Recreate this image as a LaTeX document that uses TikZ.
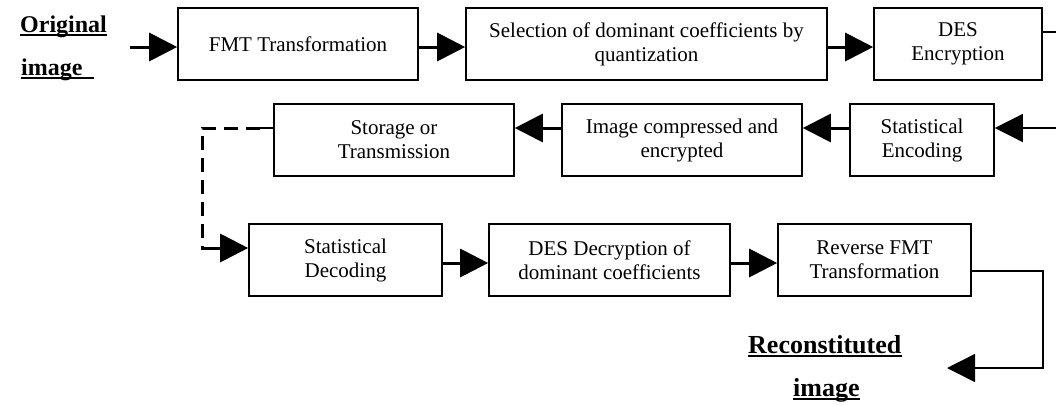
\documentclass[tikz,border=0pt]{standalone}
\usepackage{fontspec}
\setmainfont{Liberation Serif}
\usetikzlibrary{arrows.meta}
\tikzset{
  box/.style={draw, line width=1.6pt, inner sep=0pt, align=center,
    font=\fontsize{21}{24}\selectfont, minimum height=72pt},
  flow/.style={line width=3pt, -{Triangle[length=28pt,width=28pt]}},
  thinflow/.style={line width=1.5pt, -{Triangle[length=28pt,width=28pt]}},
  lbl/.style={font=\fontsize{24}{28}\selectfont\bfseries, inner sep=0pt, anchor=base west},
  biglbl/.style={lbl, font=\fontsize{26}{30}\selectfont\bfseries},
  uline/.style={line width=1.5pt},
  dashline/.style={line width=3pt, dash pattern=on 14pt off 8pt},
}
\begin{document}
\begin{tikzpicture}[x=1pt, y=-1pt]
  \useasboundingbox (0,0) rectangle (1056,405);
  \clip (0,0) rectangle (1056,405);

  % first row: compression and encryption
  \node[box, minimum width=240pt] (fmt) at (298,44) {FMT Transformation};
  \node[box, minimum width=361pt] (sel) at (646.5,44) {Selection of dominant coefficients by\\quantization};
  \node[box, minimum width=168pt] (des) at (958,44) {DES\\Encryption};

  % second row
  \node[box, minimum width=144pt] (enc) at (922,140) {Statistical\\Encoding};
  \node[box, minimum width=240pt] (cmp) at (682,140) {Image compressed and\\encrypted};
  \node[box, minimum width=240pt] (sto) at (394,140) {Storage or\\Transmission};

  % third row: decoding and reconstruction
  \node[box, minimum width=193pt] (dec) at (345.5,260) {Statistical\\Decoding};
  \node[box, minimum width=241pt] (dcr) at (609.5,260) {DES Decryption of\\dominant coefficients};
  \node[box, minimum width=193pt] (rev) at (874.5,260) {Reverse FMT\\Transformation};

  % labels
  \node[lbl] (orig) at (20,32) {Original};
  \node[lbl] (oimg) at (21,75) {image\hspace*{11pt}};
  \node[biglbl] (reco) at (748,353) {Reconstituted};
  \node[biglbl] (rimg) at (793,396) {image};
  \foreach \n in {orig,oimg,reco,rimg}
    \draw[uline] ([yshift=-3pt]\n.base west) -- ([yshift=-3pt]\n.base east);

  % helper points
  \coordinate (in0) at (130,47);
  \coordinate (r1) at (1070,32);
  \coordinate (r2) at (1070,128);
  \coordinate (d0) at (260,128);
  \coordinate (d1) at (202,128);
  \coordinate (d2) at (202,248);
  \coordinate (d3) at (214,248);
  \coordinate (e1) at (1043,271);
  \coordinate (e2) at (1043,368);
  \coordinate (out) at (947,368);

  % first row connectors
  \draw[flow] (in0) -- ([yshift=-3pt]fmt.west);
  \draw[flow] ([yshift=-3pt]fmt.east) -- ([yshift=-3pt]sel.west);
  \draw[flow] ([yshift=-3pt]sel.east) -- ([yshift=-3pt]des.west);
  \draw[thinflow] ([yshift=12pt]des.east) -- (r1) -- (r2) -- ([yshift=12pt]enc.east);

  % second row connectors
  \draw[flow] ([yshift=12pt]enc.west) -- ([yshift=12pt]cmp.east);
  \draw[flow] ([yshift=12pt]cmp.west) -- ([yshift=12pt]sto.east);

  % storage to decoding (dashed)
  \draw[line width=1.5pt] ([yshift=12pt]sto.west) -- (d0);
  \draw[dashline] (d0) -- (d1) -- (d2) -- (d3);
  \draw[flow] (d3) -- ([yshift=12pt]dec.west);

  % third row connectors
  \draw[flow] ([yshift=-3pt]dec.east) -- ([yshift=-3pt]dcr.west);
  \draw[flow] ([yshift=-3pt]dcr.east) -- ([yshift=-3pt]rev.west);
  \draw[thinflow] ([yshift=-11pt]rev.east) -- (e1) -- (e2) -- (out);
\end{tikzpicture}
\end{document}
